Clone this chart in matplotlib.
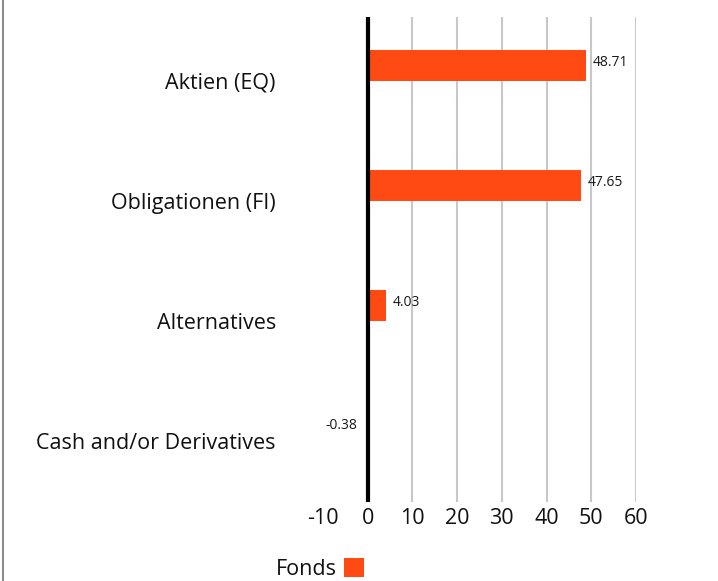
import matplotlib
matplotlib.use("Agg")
import matplotlib.pyplot as plt
import numpy as np

# Asset allocation data
categories = ["Aktien (EQ)", "Obligationen (FI)", "Alternatives", "Cash and/or Derivatives"]
fonds = [48.71, 47.65, 4.03, -0.38]
x_ticks = [-10, 0, 10, 20, 30, 40, 50, 60]

orange = "#ff4a14"
plt.rcParams["font.family"] = ["Open Sans", "DejaVu Sans"]
plt.rcParams["axes.unicode_minus"] = False

fig = plt.figure(figsize=(7.18, 5.81), dpi=100)
ax = fig.add_axes([323 / 718, 1 - 502 / 581, (636 - 323) / 718, (502 - 17) / 581])

y = np.arange(len(categories))
bar_h = 31 / 120
bars = ax.barh(y - bar_h / 2, fonds, height=bar_h, color=orange, label="Fonds", zorder=3)

for b, v in zip(bars, fonds):
    yc = b.get_y() + b.get_height() / 2
    if v >= 0:
        ax.annotate(f"{v:.2f}", (v, yc), xytext=(5, 2), textcoords="offset points",
                    ha="left", va="center", fontsize=10, color="#1a1a1a")
    else:
        ax.annotate(f"{v:.2f}", (v, yc), xytext=(-6, 0), textcoords="offset points",
                    ha="right", va="center", fontsize=10, color="#1a1a1a")

ax.set_xlim(-10, 60)
ax.set_ylim((502 - 81) / 120, (17 - 81) / 120)
ax.set_xticks(x_ticks)
ax.set_yticks(y)
ax.set_yticklabels(categories)
ax.tick_params(axis="both", length=0, labelsize=15.5, labelcolor="#111111")
ax.tick_params(axis="y", pad=34)
ax.tick_params(axis="x", pad=4)

for t in x_ticks:
    if t > 0:
        ax.axvline(t, color="#c8c8c8", linewidth=1.5, zorder=1)
ax.axvline(0, color="black", linewidth=3.0, zorder=4)

for s in ax.spines.values():
    s.set_visible(False)

# left frame line of the widget
fig.add_artist(plt.Line2D([2.5 / 718, 2.5 / 718], [0, 1], color="#8c8c8c", linewidth=1.5))

fig.legend(handles=[bars], labels=["Fonds"], loc="center", bbox_to_anchor=(320 / 718, 1 - 569 / 581),
           frameon=False, markerfirst=False, fontsize=15.5, handlelength=0.93, handleheight=0.93,
           handletextpad=0.35, borderpad=0, labelcolor="#111111")

fig.savefig("out.png", dpi=100)
